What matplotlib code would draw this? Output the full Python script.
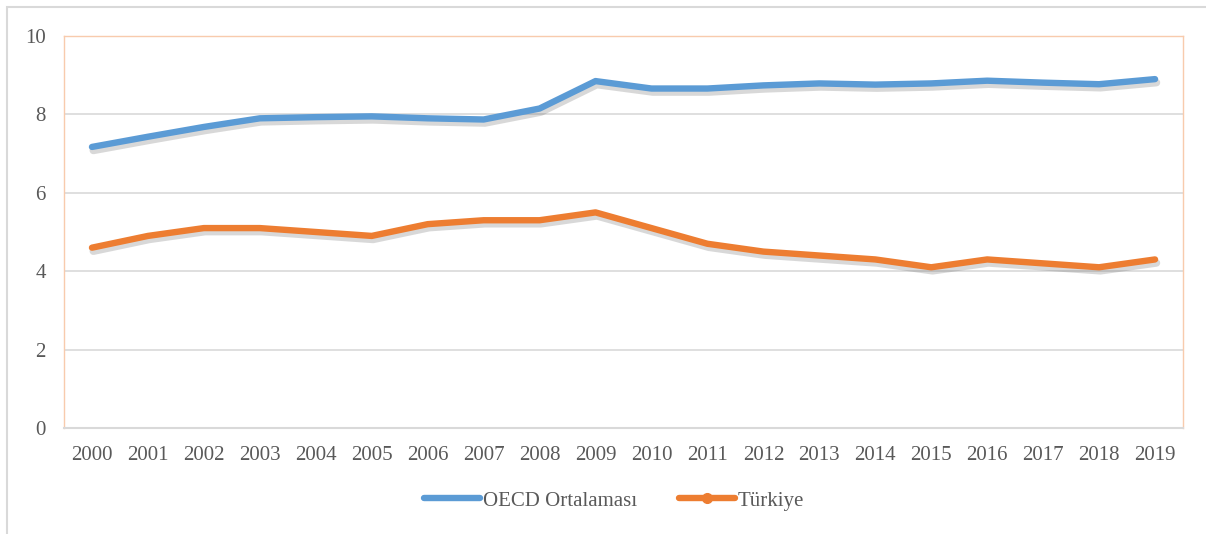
import matplotlib
matplotlib.use("Agg")
import matplotlib.pyplot as plt
import matplotlib.patheffects as pe
from matplotlib.lines import Line2D
from matplotlib.patches import Rectangle

years = ["2000", "2001", "2002", "2003", "2004", "2005", "2006", "2007", "2008", "2009",
         "2010", "2011", "2012", "2013", "2014", "2015", "2016", "2017", "2018", "2019"]
oecd = [7.17, 7.43, 7.68, 7.90, 7.93, 7.95, 7.90, 7.87, 8.15, 8.85,
        8.66, 8.66, 8.74, 8.79, 8.76, 8.79, 8.86, 8.81, 8.77, 8.90]
turkiye = [4.60, 4.90, 5.10, 5.10, 5.00, 4.90, 5.20, 5.30, 5.30, 5.50,
           5.10, 4.70, 4.50, 4.40, 4.30, 4.10, 4.30, 4.20, 4.10, 4.30]
yticks = [0, 2, 4, 6, 8, 10]
series_names = ["OECD Ortalaması", "Türkiye"]

BLUE = "#5B9BD5"
ORANGE = "#ED7D31"
GRID = "#D9D9D9"
TEXT = "#595959"
PEACH = "#F8CBAD"

plt.rcParams['font.family'] = ['Liberation Serif', 'DejaVu Serif']

W, H = 1206, 534
fig = plt.figure(figsize=(W / 100, H / 100), dpi=100)

# outer chart frame
fig.patches.append(Rectangle((7 / W, -0.1), 1.2, 1 - 7 / H + 0.1, transform=fig.transFigure,
                             fill=False, edgecolor=GRID, linewidth=1.5, zorder=0))

ax = fig.add_axes([64 / W, (H - 428) / H, 1119 / W, 392 / H])
x = list(range(len(years)))
shadow = [pe.SimpleLineShadow(offset=(1.0, -2.5), shadow_color="#505050", alpha=0.22, linewidth=5.5),
          pe.Normal()]
ax.plot(x, oecd, color=BLUE, lw=4.6, solid_capstyle='round', solid_joinstyle='round',
        path_effects=shadow, zorder=3)
ax.plot(x, turkiye, color=ORANGE, lw=4.6, solid_capstyle='round', solid_joinstyle='round',
        path_effects=shadow, zorder=3)

ax.set_xlim(-0.5, len(years) - 0.5)
ax.set_ylim(0, 10)
ax.set_yticks(yticks)
ax.set_yticklabels([str(v) for v in yticks])
ax.set_xticks(x)
ax.set_xticklabels(years)
ax.tick_params(axis='both', length=0, labelsize=15, colors=TEXT)
ax.tick_params(axis='y', pad=13)
ax.tick_params(axis='x', pad=13)
ax.yaxis.grid(True, color=GRID, lw=1.2)
ax.set_axisbelow(True)
for s in ['top', 'left', 'right']:
    ax.spines[s].set_color(PEACH)
    ax.spines[s].set_linewidth(1.0)
ax.spines['bottom'].set_color(GRID)
ax.spines['bottom'].set_linewidth(1.5)

handles = [Line2D([], [], color=BLUE, lw=4.6, solid_capstyle='round'),
           Line2D([], [], color=ORANGE, lw=4.6, solid_capstyle='round', marker='o', markersize=7)]
fig.legend(handles, series_names, loc='center', bbox_to_anchor=(614 / W, 1 - 501 / H), ncol=2,
           frameon=False, fontsize=15, labelcolor=TEXT, handlelength=2.7, handletextpad=0.15,
           columnspacing=2.0)

fig.savefig("out.png", dpi=100)
